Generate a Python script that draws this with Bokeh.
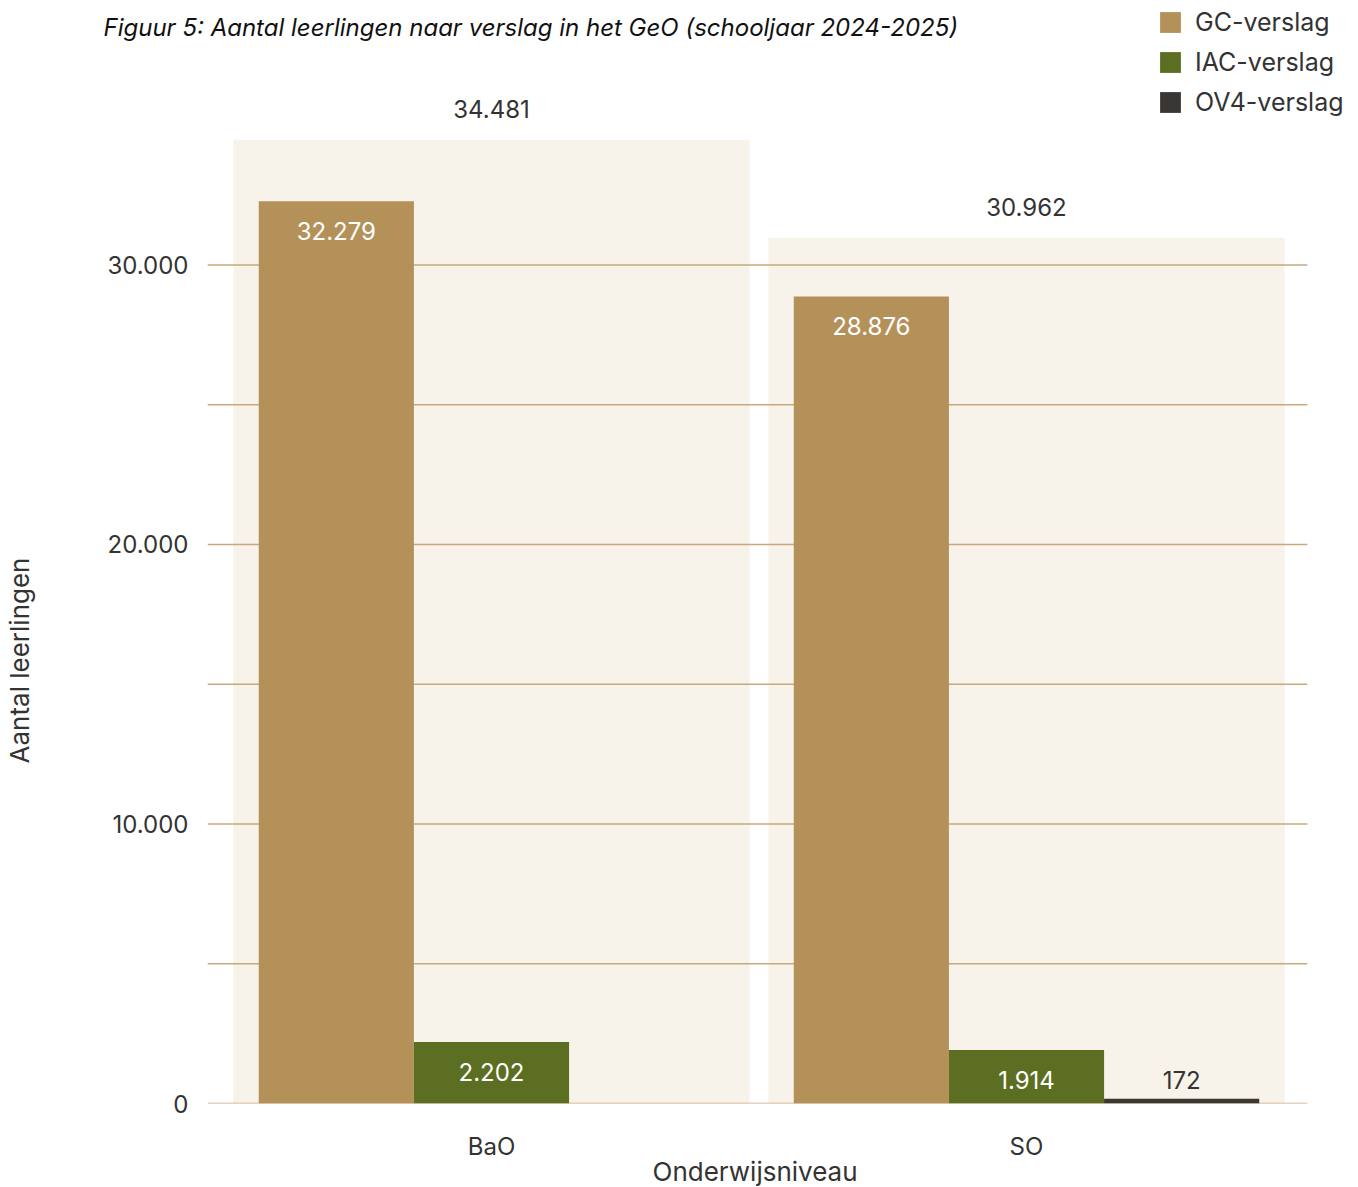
from bokeh.plotting import figure
from bokeh.models import (Range1d, FixedTicker, Legend, LegendItem,
                          ColumnDataSource, Title)
from bokeh.transform import dodge
from bokeh.core.properties import value
from bokeh.embed import file_html
from bokeh.resources import INLINE

# ---------------- data ----------------
categories = ["BaO", "SO"]
series_names = ["GC-verslag", "IAC-verslag", "OV4-verslag"]
gc_values = [32279, 28876]
iac_values = [2202, 1914]
ov4_values = [0, 172]
totals = [34481, 30962]
y_ticks = [0, 10000, 20000, 30000]
y_tick_labels = ["0", "10.000", "20.000", "30.000"]
y_minor_ticks = [5000, 15000, 25000]

title_text = "Figuur 5: Aantal leerlingen naar verslag in het GeO (schooljaar 2024-2025)"
x_title = "Onderwijsniveau"
y_title = "Aantal leerlingen"

# ---------------- style ----------------
FONT = "Inter"
TXT = "#333333"
colors = ["#B5915A", "#5B6E21", "#3A3634"]
label_colors = ["#FFFFFF", "#FFFFFF", TXT]
bg_color = "#F7F2EA"
grid_color = "#C9A97C"
offsets = [-0.29, 0.0, 0.29]
bar_w = 0.29
X_START, X_END, GRID_END = -0.5308, 1.6056, 1.525


def fmt(v):
    return f"{v:,}".replace(",", ".")


def set_standoff(obj, s, fallback):
    try:
        obj.standoff = s
    except Exception:
        obj.standoff = fallback


cat_pos = list(range(len(categories)))

p = figure(
    width=1350, height=1186,
    x_range=Range1d(X_START, X_END),
    y_range=Range1d(0, 39463),
    output_backend="svg", toolbar_location=None,
    min_border_left=207, min_border_right=0,
    min_border_top=0, min_border_bottom=83,
)
p.outline_line_color = None
p.background_fill_color = "white"
p.border_fill_color = "white"
p.xgrid.grid_line_color = None
p.ygrid.grid_line_color = None

# background total boxes
bg_src = ColumnDataSource(dict(x=cat_pos, total=totals, lbl=[fmt(v) for v in totals]))
p.vbar(x="x", top="total", width=0.965, source=bg_src,
       fill_color=bg_color, line_color=None)
p.text(x="x", y="total", text="lbl", source=bg_src,
       text_font=value(FONT), text_font_size="24px", text_color=TXT,
       text_align="center", text_baseline="middle", y_offset=-31)

# horizontal grid lines at the tick values
grid_y = sorted(y_ticks + y_minor_ticks)
p.segment(x0=[X_START] * len(grid_y), x1=[GRID_END] * len(grid_y),
          y0=grid_y, y1=grid_y, line_color=grid_color, line_width=1.5)

# bars
series_values = [gc_values, iac_values, ov4_values]
renderers = []
for name, vals, col, lcol, off in zip(series_names, series_values, colors,
                                       label_colors, offsets):
    src = ColumnDataSource(dict(x=cat_pos, val=vals))
    r = p.vbar(x=dodge("x", off), top="val", width=bar_w,
               source=src, fill_color=col, line_color=None)
    renderers.append(r)
    keep = [i for i, v in enumerate(vals) if v > 0]
    lsrc = ColumnDataSource(dict(x=[cat_pos[i] for i in keep],
                                 val=[vals[i] for i in keep],
                                 lbl=[fmt(vals[i]) for i in keep]))
    inside = lcol == "#FFFFFF"
    p.text(x=dodge("x", off), y="val", text="lbl", source=lsrc,
           text_font=value(FONT), text_font_size="24px",
           text_color=lcol, text_align="center", text_baseline="middle",
           y_offset=30 if inside else -19)

# axes
p.yaxis.ticker = FixedTicker(ticks=y_ticks, minor_ticks=[])
p.yaxis.major_label_overrides = {t: l for t, l in zip(y_ticks, y_tick_labels)}
p.yaxis.axis_line_color = None
p.yaxis.major_tick_line_color = None
p.yaxis.minor_tick_line_color = None
p.yaxis.major_tick_out = 0
p.yaxis.minor_tick_out = 0
p.yaxis.major_tick_in = 0
p.yaxis.major_label_standoff = 19
p.yaxis.major_label_text_font = FONT
p.yaxis.major_label_text_font_size = "24px"
p.yaxis.major_label_text_color = TXT
p.yaxis.axis_label = " "
p.yaxis.axis_label_standoff = 39
p.yaxis.axis_label_text_font_size = "24px"

p.xaxis.ticker = FixedTicker(ticks=cat_pos, minor_ticks=[])
p.xaxis.major_label_overrides = {i: c for i, c in zip(cat_pos, categories)}
p.xaxis.axis_line_color = None
p.xaxis.major_tick_line_color = None
p.xaxis.minor_tick_line_color = None
p.xaxis.major_tick_out = 0
p.xaxis.minor_tick_out = 0
p.xaxis.major_tick_in = 0
p.xaxis.major_label_standoff = 28
p.xaxis.major_label_text_font = FONT
p.xaxis.major_label_text_font_size = "24px"
p.xaxis.major_label_text_color = TXT

# titles
t_main = Title(text=title_text, align="left", offset=-104,
               vertical_align="bottom", text_font=FONT,
               text_font_size="24px", text_font_style="italic",
               text_color="#111111")
set_standoff(t_main, -82, 0)
p.add_layout(t_main, "above")

t_y = Title(text=y_title, align="left", offset=340, standoff=0,
            vertical_align="middle", text_font=FONT,
            text_font_size="26px", text_font_style="normal", text_color=TXT)
p.add_layout(t_y, "left")

t_x = Title(text=x_title, align="left", offset=445,
            vertical_align="top", text_font=FONT,
            text_font_size="26px", text_font_style="normal", text_color=TXT)
set_standoff(t_x, -16, 0)
p.add_layout(t_x, "below")

legend = Legend(
    items=[LegendItem(label=n, renderers=[r]) for n, r in zip(series_names, renderers)],
    location=(950, 981), orientation="vertical",
    glyph_width=26, glyph_height=26, label_height=40, spacing=0,
    padding=0, margin=0, label_standoff=12,
    label_text_font=FONT, label_text_font_size="25px", label_text_color=TXT,
    border_line_color=None, background_fill_alpha=0,
)
p.add_layout(legend)

open("out.html", "w").write(file_html(p, INLINE))
